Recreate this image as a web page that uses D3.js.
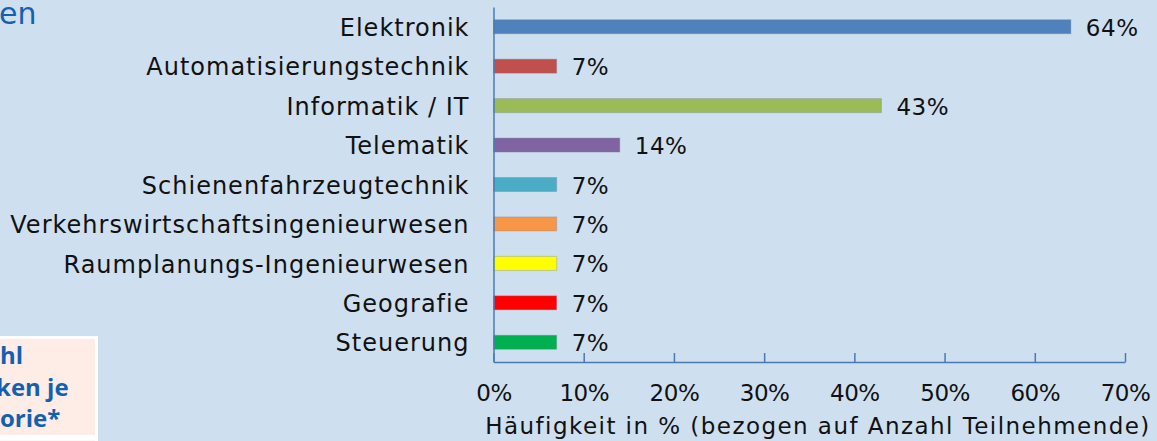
<!DOCTYPE html>
<html>
<head>
<meta charset="utf-8">
<script src="https://cdn.jsdelivr.net/npm/d3@7"></script>
<style>
  body { margin: 0; background: #cedff0; }
  svg { display: block; }
  .cat text { font-family: "DejaVu Sans", sans-serif; font-size: 24px; fill: #111; letter-spacing: 1px; }
  .x text { font-family: "DejaVu Sans", sans-serif; font-size: 23px; fill: #111; }
  .val { font-family: "DejaVu Sans", sans-serif; font-size: 23px; fill: #111; }
</style>
</head>
<body>
<div id="chart-area"></div>
<script>
const chartWidth = 1157
const chartHeight = 441

// data
const categories = ["Elektronik", "Automatisierungstechnik", "Informatik / IT", "Telematik",
    "Schienenfahrzeugtechnik", "Verkehrswirtschaftsingenieurwesen", "Raumplanungs-Ingenieurwesen",
    "Geografie", "Steuerung"];
const values = [0.64, 0.07, 0.43, 0.14, 0.07, 0.07, 0.07, 0.07, 0.07];
const barColors = ["#4f81bd", "#c0504d", "#9bbb59", "#8064a2", "#4bacc6", "#f79646", "#ffff00", "#ff0000", "#00b050"];
const xTicks = [0, 0.1, 0.2, 0.3, 0.4, 0.5, 0.6, 0.7];
const xTitle = "Häufigkeit in % (bezogen auf Anzahl Teilnehmende)";

const axisColor = "#4a7ab4";

const svg = d3.select("#chart-area").append("svg")
    .attr("width", chartWidth)
    .attr("height", chartHeight);

svg.append("rect")
    .attr("width", chartWidth)
    .attr("height", chartHeight)
    .attr("fill", "#cedff0");

// cut-off title fragment top left
svg.append("text")
    .attr("x", -1)
    .attr("y", 24)
    .attr("font-family", "DejaVu Sans, sans-serif")
    .attr("font-size", "30px")
    .attr("fill", "#1660b2")
    .text("en");

// cut-off info box bottom left
svg.append("rect")
    .attr("x", -5).attr("y", 337.5)
    .attr("width", 101.5).attr("height", 99)
    .attr("fill", "#fdede6")
    .attr("stroke", "#ffffff")
    .attr("stroke-width", 3);
svg.append("rect")
    .attr("x", -5).attr("y", 439)
    .attr("width", 101.5).attr("height", 10)
    .attr("fill", "#fdede6")
    .attr("stroke", "#ffffff")
    .attr("stroke-width", 3);

const boxLines = [["hl", 0, 364], ["ken je", -4, 396], ["orie*", 0, 427]];
svg.selectAll(".boxtxt")
    .data(boxLines)
    .enter()
    .append("text")
    .attr("class", "boxtxt")
    .attr("x", d => d[1])
    .attr("y", d => d[2])
    .attr("font-family", "Open Sans, sans-serif")
    .attr("font-weight", "bold")
    .attr("font-size", "24px")
    .attr("fill", "#1460b0")
    .text(d => d[0]);

// scales
const x = d3.scaleLinear()
    .domain([0, 0.7])
    .range([493.5, 1125]);

const y = d3.scaleBand()
    .domain(categories)
    .range([7, 362])
    .paddingInner(0.645)
    .paddingOuter(0.3225);

// bars
svg.selectAll(".bar")
    .data(categories)
    .enter()
    .append("rect")
    .attr("class", "bar")
    .attr("x", x(0))
    .attr("y", d => y(d))
    .attr("width", (d, i) => x(values[i]) - x(0))
    .attr("height", y.bandwidth())
    .attr("fill", (d, i) => barColors[i])
    .attr("stroke", "rgba(120,130,150,0.35)")
    .attr("stroke-width", 1);

// value labels
svg.selectAll(".val")
    .data(categories)
    .enter()
    .append("text")
    .attr("class", "val")
    .attr("x", (d, i) => x(values[i]) + 15)
    .attr("y", d => y(d) + y.bandwidth() / 2 + 9)
    .attr("letter-spacing", "0.5px")
    .text((d, i) => Math.round(values[i] * 100) + "%");

// y axis
const yAxis = svg.append("g")
    .attr("class", "cat")
    .attr("transform", `translate(${x(0)},0)`)
    .call(d3.axisLeft(y).tickSize(0).tickPadding(24));
yAxis.select(".domain").attr("stroke", axisColor).attr("stroke-width", 1.5);
yAxis.selectAll("text").attr("dy", "0.38em");

// x axis, ticks pointing up
const xAxis = svg.append("g")
    .attr("class", "x")
    .attr("transform", "translate(0,362)")
    .call(d3.axisBottom(x).tickValues(xTicks).tickSizeInner(-9).tickSizeOuter(0)
        .tickFormat(d3.format(".0%")));
xAxis.select(".domain").attr("stroke", axisColor).attr("stroke-width", 1.5);
xAxis.selectAll(".tick line").attr("stroke", axisColor).attr("stroke-width", 1.5);
xAxis.selectAll(".tick text")
    .attr("y", 39)
    .attr("dy", 0)
    .attr("letter-spacing", "-0.5px");

// axis title
svg.append("text")
    .attr("x", 818)
    .attr("y", 434)
    .attr("text-anchor", "middle")
    .attr("font-family", "DejaVu Sans, sans-serif")
    .attr("font-size", "23px")
    .attr("letter-spacing", "1.45px")
    .attr("fill", "#111")
    .text(xTitle);
</script>
</body>
</html>
